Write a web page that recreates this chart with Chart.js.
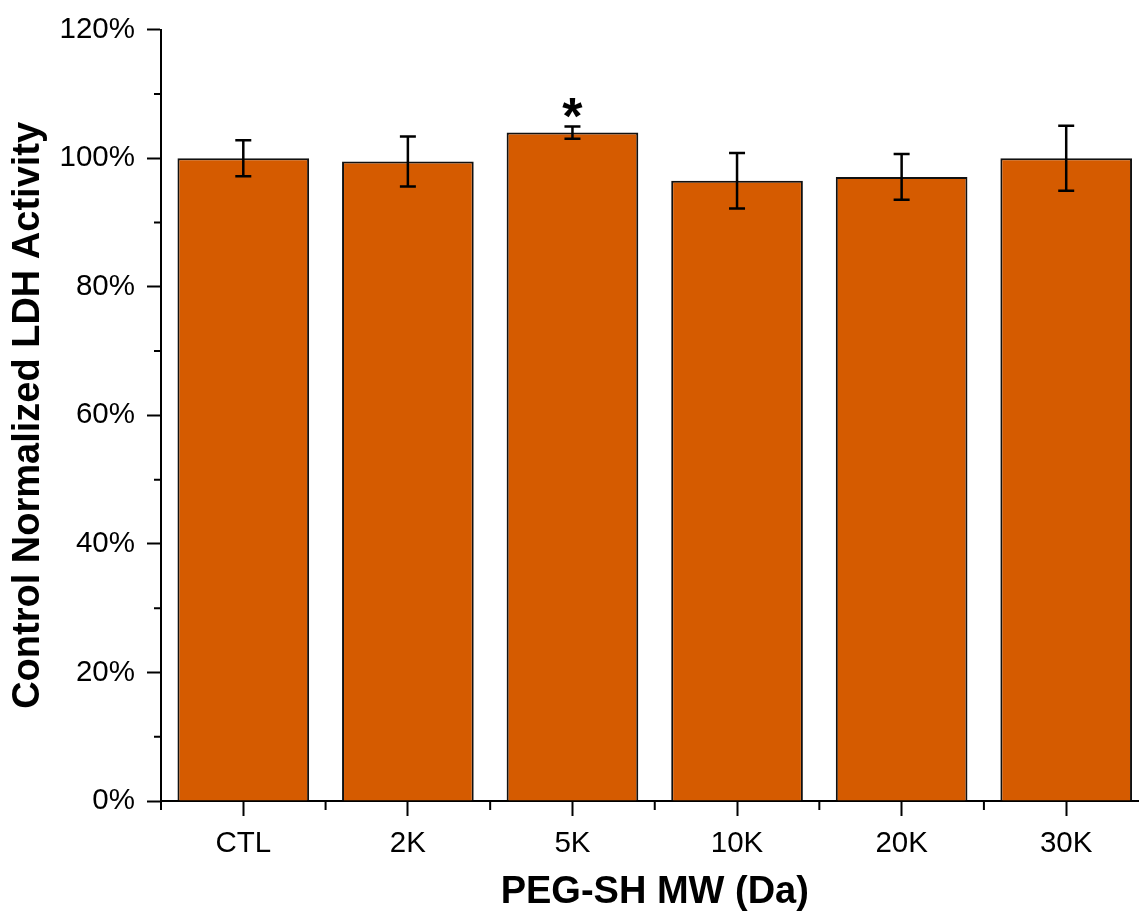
<!DOCTYPE html>
<html lang="en">
<head>
    <meta charset="UTF-8">
    <title>LDH Activity vs PEG-SH MW</title>
    <style>
        html, body { margin: 0; padding: 0; background: #fff; overflow: hidden; }
    </style>
</head>
<body>
    <div style="width: 1150px; height: 917px;">
        <canvas id="grafico" width="1150" height="917"></canvas>
    </div>

    <script src="https://cdn.jsdelivr.net/npm/chart.js"></script>

    <script>
        // dados
        const categorias = ['CTL', '2K', '5K', '10K', '20K', '30K']
        const valores = [100, 99.5, 104, 96.5, 97.1, 100]
        const erros = [2.8, 3.9, 0.95, 4.3, 3.55, 5.05]
        const marcas = ['', '', '*', '', '', '']
        const ticksY = [0, 20, 40, 60, 80, 100, 120]
        const ticksMenoresY = [10, 30, 50, 70, 90, 110]

        const fonte = '"Liberation Sans", Arial, sans-serif'

        // barras de erro + asterisco
        const barrasErro = {
            id: 'barrasErro',
            afterDatasetsDraw(chart) {
                const c = chart.ctx
                const y = chart.scales.y
                const meta = chart.getDatasetMeta(0)
                c.save()
                c.strokeStyle = '#000'
                c.lineWidth = 2.5
                meta.data.forEach((bar, i) => {
                    const yAlto = y.getPixelForValue(valores[i] + erros[i])
                    const yBaixo = y.getPixelForValue(valores[i] - erros[i])
                    c.beginPath()
                    c.moveTo(bar.x, yAlto); c.lineTo(bar.x, yBaixo)
                    c.moveTo(bar.x - 8, yAlto); c.lineTo(bar.x + 8, yAlto)
                    c.moveTo(bar.x - 8, yBaixo); c.lineTo(bar.x + 8, yBaixo)
                    c.stroke()
                    if (marcas[i]) {
                        c.fillStyle = '#000'
                        c.font = 'bold 52px ' + fonte
                        c.textAlign = 'center'
                        c.textBaseline = 'alphabetic'
                        c.fillText(marcas[i], bar.x, yAlto + 8)
                    }
                })
                c.restore()
            }
        }

        // ticks menores dos dois eixos
        const ticksMenores = {
            id: 'ticksMenores',
            afterDraw(chart) {
                const c = chart.ctx
                const x = chart.scales.x
                const y = chart.scales.y
                const area = chart.chartArea
                c.save()
                c.strokeStyle = '#000'
                c.lineWidth = 2
                c.beginPath()
                ticksMenoresY.forEach(v => {
                    const py = y.getPixelForValue(v)
                    c.moveTo(area.left - 7, py); c.lineTo(area.left, py)
                })
                for (let i = 0; i <= categorias.length; i++) {
                    const px = x.getPixelForValue(i - 0.5)
                    c.moveTo(px, area.bottom); c.lineTo(px, area.bottom + 9)
                }
                c.stroke()
                c.restore()
            }
        }

        const ctx = document.getElementById('grafico')

        let grafico = new Chart(ctx, {
            type: 'bar',
            data: {
                labels: categorias,
                datasets: [{
                    data: valores,
                    backgroundColor: '#d55b00',
                    borderColor: '#111',
                    borderWidth: 2,
                    barPercentage: 0.8,
                    categoryPercentage: 1
                }]
            },
            options: {
                responsive: false,
                animation: false,
                devicePixelRatio: 1,
                layout: { padding: { top: 29, right: 1.5, left: 0, bottom: 0 } },
                plugins: {
                    legend: { display: false },
                    tooltip: { enabled: false }
                },
                scales: {
                    x: {
                        offset: true,
                        grid: {
                            offset: false,
                            drawOnChartArea: false,
                            drawTicks: true,
                            tickLength: 15,
                            tickWidth: 2,
                            tickColor: '#000'
                        },
                        border: { display: true, color: '#000', width: 2 },
                        ticks: {
                            color: '#000',
                            padding: 10,
                            font: { family: fonte, size: 29.5 }
                        },
                        title: {
                            display: true,
                            text: 'PEG-SH MW (Da)',
                            color: '#000',
                            font: { family: fonte, size: 38, weight: 'bold', lineHeight: 1.2 },
                            padding: { top: 0, bottom: 2 }
                        },
                        afterFit(scale) { scale.height = 116 }
                    },
                    y: {
                        min: 0,
                        max: 120,
                        afterBuildTicks(scale) {
                            scale.ticks = ticksY.map(v => ({ value: v }))
                        },
                        grid: {
                            drawOnChartArea: false,
                            drawTicks: true,
                            tickLength: 14,
                            tickWidth: 2,
                            tickColor: '#000'
                        },
                        border: { display: true, color: '#000', width: 2 },
                        ticks: {
                            color: '#000',
                            padding: 12,
                            font: { family: fonte, size: 29.5 },
                            callback: v => v + '%'
                        },
                        title: {
                            display: true,
                            text: 'Control Normalized LDH Activity',
                            color: '#000',
                            font: { family: fonte, size: 38, weight: 'bold', lineHeight: 1.2 },
                            padding: { top: 6, bottom: 0 }
                        },
                        afterFit(scale) { scale.width = 161 }
                    }
                }
            },
            plugins: [barrasErro, ticksMenores]
        })
    </script>
</body>
</html>
